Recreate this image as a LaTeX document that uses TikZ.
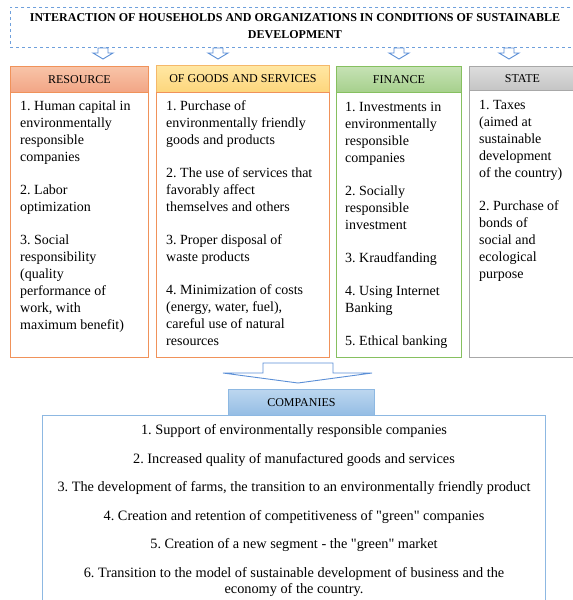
\documentclass[tikz,border=0pt]{standalone}
\usepackage{fontspec}
\setmainfont{Liberation Serif}
\frenchspacing
\definecolor{dashblue}{HTML}{6FA0DC}
\definecolor{arrblue}{HTML}{5B8FD6}
\definecolor{orgB}{HTML}{F0925A}
\definecolor{resTop}{HTML}{F8C4A8}
\definecolor{resBot}{HTML}{F2A585}
\definecolor{gooTop}{HTML}{FFE7A3}
\definecolor{gooBot}{HTML}{FDD67C}
\definecolor{gooB}{HTML}{F5B86A}
\definecolor{finTop}{HTML}{C6E2B5}
\definecolor{finBot}{HTML}{A6D08C}
\definecolor{finB}{HTML}{86C060}
\definecolor{staTop}{HTML}{DDDDDD}
\definecolor{staBot}{HTML}{C4C4C4}
\definecolor{staB}{HTML}{A8A8A8}
\definecolor{comTop}{HTML}{BCD6EF}
\definecolor{comBot}{HTML}{94BDE4}
\definecolor{comB}{HTML}{8DB8E2}
\newcommand{\topstrut}{\rule{0pt}{10pt}}
\newcommand{\dq}{\XeTeXglyph\XeTeXglyphindex"quotedbl"\relax}
\begin{document}
\begin{tikzpicture}[x=1pt,y=-1pt,
  hdr/.style={draw, line width=0.9pt, minimum height=26pt, anchor=north west, inner sep=0pt, font=\fontsize{12}{14}\selectfont},
  bodybox/.style={draw, line width=1.2pt, anchor=north west, inner sep=0pt},
  bodytext/.style={anchor=north west, align=left, inner sep=0pt, font=\fontsize{14}{17}\selectfont},
  smallarrow/.style={draw=arrblue, line width=0.9pt, fill=white, line join=miter},
  pics/downarr/.style={code={\draw[smallarrow] (-5,0) -- (5,0) -- (5,5) -- (10,5) -- (0,11) -- (-10,5) -- (-5,5) -- cycle;}}
]
\useasboundingbox (0,0) rectangle (573,600);
\clip (0,0) rectangle (573,600);

% title
\node[draw=dashblue, dashed, line width=0.8pt, minimum width=572pt, minimum height=40pt, anchor=north west, inner sep=0pt] (tb) at (10,7) {};
\node[anchor=north, align=center, inner sep=0pt, font=\fontsize{12}{16.5}\selectfont\bfseries] (title) at (295,11.5)
  {\topstrut INTERACTION OF HOUSEHOLDS AND ORGANIZATIONS IN CONDITIONS OF SUSTAINABLE\\ DEVELOPMENT};

% small arrows
\pic at (103,48) {downarr};
\pic at (218,48) {downarr};
\pic at (399,48) {downarr};
\pic at (509,48) {downarr};

% RESOURCE
\node[hdr, draw=orgB, top color=resTop, bottom color=resBot, minimum width=138pt] (rh) at (10,66) {RESOURCE};
\node[bodybox, draw=orgB, minimum width=138pt, minimum height=265pt] (rb) at (10,92) {};
\node[bodytext] (rt) at (20,100) {\topstrut 1. Human capital in\\ environmentally\\ responsible\\ companies\\[16pt] 2. Labor\\ optimization\\[16pt] 3. Social\\ responsibility\\ (quality\\ performance of\\ work, with\\ maximum benefit)};

% GOODS
\node[hdr, draw=gooB, top color=gooTop, bottom color=gooBot, minimum width=173pt, minimum height=27pt] (gh) at (156,65) {OF GOODS AND SERVICES};
\node[bodybox, draw=orgB, minimum width=173pt, minimum height=265pt] (gb) at (156,92) {};
\node[bodytext] (gt) at (166,100) {\topstrut 1. Purchase of\\ environmentally friendly\\ goods and products\\[16pt] 2. The use of services that\\ favorably affect\\ themselves and others\\[16pt] 3. Proper disposal of\\ waste products\\[16pt] 4. Minimization of costs\\ (energy, water, fuel),\\ careful use of natural\\ resources};

% FINANCE
\node[hdr, draw=finB, top color=finTop, bottom color=finBot, minimum width=125pt] (fh) at (336,66) {FINANCE};
\node[bodybox, draw=finB, minimum width=125pt, minimum height=265pt] (fb) at (336,92) {};
\node[bodytext] (ft) at (345,101) {\topstrut 1. Investments in\\ environmentally\\ responsible\\ companies\\[16pt] 2. Socially\\ responsible\\ investment\\[16pt] 3. Kraudfanding\\[16pt] 4. Using Internet\\ Banking\\[16pt] 5. Ethical banking};

% STATE
\node[hdr, draw=staB, top color=staTop, bottom color=staBot, minimum width=120pt, minimum height=24pt] (sh) at (469,66) {\hspace*{-14pt}STATE};
\node[bodybox, draw=staB, minimum width=120pt, minimum height=267pt] (sb) at (469,90) {};
\node[bodytext] (st) at (479,99) {\topstrut 1. Taxes\\ (aimed at\\ sustainable\\ development\\ of the country)\\[16pt] 2. Purchase of\\ bonds of\\ social and\\ ecological\\ purpose};

% big arrow
\draw[smallarrow] (263,363) -- (333,363) -- (333,373) -- (372,373) -- (298,383) -- (223,373) -- (263,373) -- cycle;

% COMPANIES
\node[hdr, draw=comB, top color=comTop, bottom color=comBot, minimum width=146pt] (ch) at (228,389) {COMPANIES};
\node[bodybox, draw=comB, minimum width=503pt, minimum height=200pt] (cb) at (42,415) {};
\node[anchor=north, align=center, inner sep=0pt, font=\fontsize{14.3}{16.5}\selectfont] (ct) at (294,424.5)
 {\topstrut 1. Support of environmentally responsible companies\\[12pt]
  2. Increased quality of manufactured goods and services\\[12pt]
  3. The development of farms, the transition to an environmentally friendly product\\[12pt]
  4. Creation and retention of competitiveness of \dq green\dq{} companies\\[12pt]
  5. Creation of a new segment - the \dq green\dq{} market\\[12pt]
  6. Transition to the model of sustainable development of business and the\\
  economy of the country.};
\end{tikzpicture}
\end{document}
